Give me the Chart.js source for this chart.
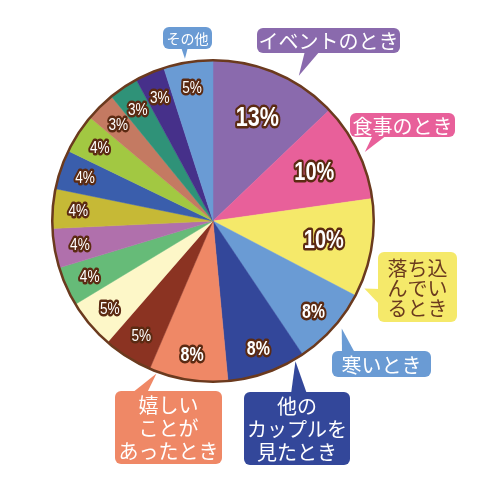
<!DOCTYPE html>
<html>
<head>
<meta charset="utf-8">
<script src="https://cdn.jsdelivr.net/npm/chart.js@4.4.1/dist/chart.umd.min.js"></script>
<style>
  html, body { margin: 0; padding: 0; background: #fff; }
  #wrap { width: 480px; height: 480px; }
</style>
</head>
<body>
<div id="wrap"><canvas id="pie" width="480" height="480"></canvas></div>
<script>
// Slices, clockwise from 12 o'clock
const categories = [
    'イベントのとき', '食事のとき', '落ち込んでいるとき', '寒いとき',
    '他のカップルを見たとき', '嬉しいことがあったとき',
    '', '', '', '', '', '', '', '', '', '', 'その他'
];
const shares = [13, 10, 10, 8, 8, 8, 5, 5, 4, 4, 4, 4, 4, 3, 3, 3, 5];
const sliceColors = [
    '#8a6aad', '#e8609a', '#f5e96a', '#6a9bd4', '#33479a', '#ef8866',
    '#8b3322', '#fdf7c8', '#66bb78', '#b070ac', '#c6b936', '#3a5eac',
    '#a2c842', '#c47a62', '#2f9278', '#46308a', '#6a9bd4'
];
const percentLabels = shares.map(v => v + '%');

// Speech-bubble text (line breaks as in the picture), keyed by slice index
const calloutLines = {
    0: ['イベントのとき'],
    1: ['食事のとき'],
    2: ['落ち込', 'んでい', 'るとき'],
    3: ['寒いとき'],
    4: ['他の', 'カップルを', '見たとき'],
    5: ['嬉しい', 'ことが', 'あったとき'],
    16: ['その他']
};

// bubble layout: box, where the tail leaves the box, and where in the slice it points
const bubbleLayout = {
    0: { x: 257, y: 28, w: 143, h: 25, side: 'bottom', base: [305, 320], at: 0.66, gap: 8, font: 20, lh: 20 },
    1: { x: 350, y: 113, w: 105, h: 24, side: 'bottom', base: [373, 387], at: 0.54, gap: 6, font: 20, lh: 20 },
    2: { x: 378, y: 252, w: 79, h: 70, side: 'left', base: [289, 305], at: 0.9, gap: 5, font: 20, lh: 20 },
    3: { x: 332, y: 351, w: 99, h: 26, side: 'top', base: [342, 355], at: 0.43, gap: 7, font: 20, lh: 20 },
    4: { x: 244, y: 392, w: 106, h: 73, side: 'top', base: [291, 307], at: 0.12, gap: 2, font: 20, lh: 23 },
    5: { x: 115, y: 391, w: 107, h: 73, side: 'top', base: [132, 147], at: 0.9, gap: 2, font: 20, lh: 23 },
    16: { x: 163, y: 27, w: 49, h: 22, side: 'bottom', base: [181, 188], at: 0.45, gap: 4, font: 14, lh: 14 }
};

const outlineColor = '#6b3a1e';

function roundRect(ctx, x, y, w, h, r) {
    ctx.beginPath();
    ctx.moveTo(x + r, y);
    ctx.arcTo(x + w, y, x + w, y + h, r);
    ctx.arcTo(x + w, y + h, x, y + h, r);
    ctx.arcTo(x, y + h, x, y, r);
    ctx.arcTo(x, y, x + w, y, r);
    ctx.closePath();
}

const pieDecor = {
    id: 'pieDecor',
    afterDatasetsDraw(chart) {
        const ctx = chart.ctx;
        const arcs = chart.getDatasetMeta(0).data;
        const cx = arcs[0].x, cy = arcs[0].y, R = arcs[0].outerRadius;

        ctx.save();
        // outer ring
        ctx.beginPath();
        ctx.arc(cx, cy, R, 0, Math.PI * 2);
        ctx.lineWidth = 2.5;
        ctx.strokeStyle = outlineColor;
        ctx.stroke();

        // percent labels
        ctx.textAlign = 'center';
        ctx.textBaseline = 'middle';
        ctx.lineJoin = 'round';
        arcs.forEach((arc, i) => {
            const v = shares[i];
            const mid = (arc.startAngle + arc.endAngle) / 2;
            const r = R * (v >= 10 ? 0.70 : 0.84);
            const size = v >= 13 ? 27 : v >= 10 ? 25 : v >= 8 ? 20 : 17;
            ctx.save();
            ctx.translate(cx + Math.cos(mid) * r, cy + Math.sin(mid) * r);
            ctx.scale(0.8, 1);
            ctx.font = (v >= 8 ? 'bold ' : '') + size + 'px "Liberation Sans", Arial, sans-serif';
            ctx.lineWidth = 5;
            ctx.strokeStyle = '#5b2a12';
            ctx.strokeText(percentLabels[i], 0, 1);
            ctx.fillStyle = '#ffffff';
            ctx.fillText(percentLabels[i], 0, 1);
            ctx.restore();
        });

        // speech bubbles
        Object.keys(calloutLines).forEach(key => {
            const i = Number(key);
            const b = bubbleLayout[i];
            const arc = arcs[i];
            const a = arc.startAngle + (arc.endAngle - arc.startAngle) * b.at;
            const tipX = cx + Math.cos(a) * (R + b.gap);
            const tipY = cy + Math.sin(a) * (R + b.gap);
            const col = sliceColors[i];

            ctx.fillStyle = col;
            roundRect(ctx, b.x, b.y, b.w, b.h, 6);
            ctx.fill();

            ctx.beginPath();
            if (b.side === 'bottom') {
                ctx.moveTo(b.base[0], b.y + b.h - 2);
                ctx.lineTo(b.base[1], b.y + b.h - 2);
            } else if (b.side === 'top') {
                ctx.moveTo(b.base[0], b.y + 2);
                ctx.lineTo(b.base[1], b.y + 2);
            } else {
                ctx.moveTo(b.x + 2, b.base[0]);
                ctx.lineTo(b.x + 2, b.base[1]);
            }
            ctx.lineTo(tipX, tipY);
            ctx.closePath();
            ctx.fill();

            const lines = calloutLines[i];
            ctx.fillStyle = i === 2 ? outlineColor : '#ffffff';
            ctx.font = b.font + 'px "Noto Sans CJK JP", sans-serif';
            const top = b.y + b.h / 2 - (lines.length - 1) * b.lh / 2;
            lines.forEach((t, k) => {
                ctx.fillText(t, b.x + b.w / 2, top + k * b.lh + 1);
            });
        });
        ctx.restore();
    }
};

new Chart(document.getElementById('pie').getContext('2d'), {
    type: 'pie',
    data: {
        labels: categories,
        datasets: [{
            data: shares,
            backgroundColor: sliceColors,
            borderColor: sliceColors,
            borderWidth: 0.5
        }]
    },
    options: {
        responsive: false,
        animation: false,
        layout: { padding: { left: 52, right: 106, top: 60, bottom: 98 } },
        plugins: {
            legend: { display: false },
            tooltip: { enabled: false }
        }
    },
    plugins: [pieDecor]
});
</script>
</body>
</html>
